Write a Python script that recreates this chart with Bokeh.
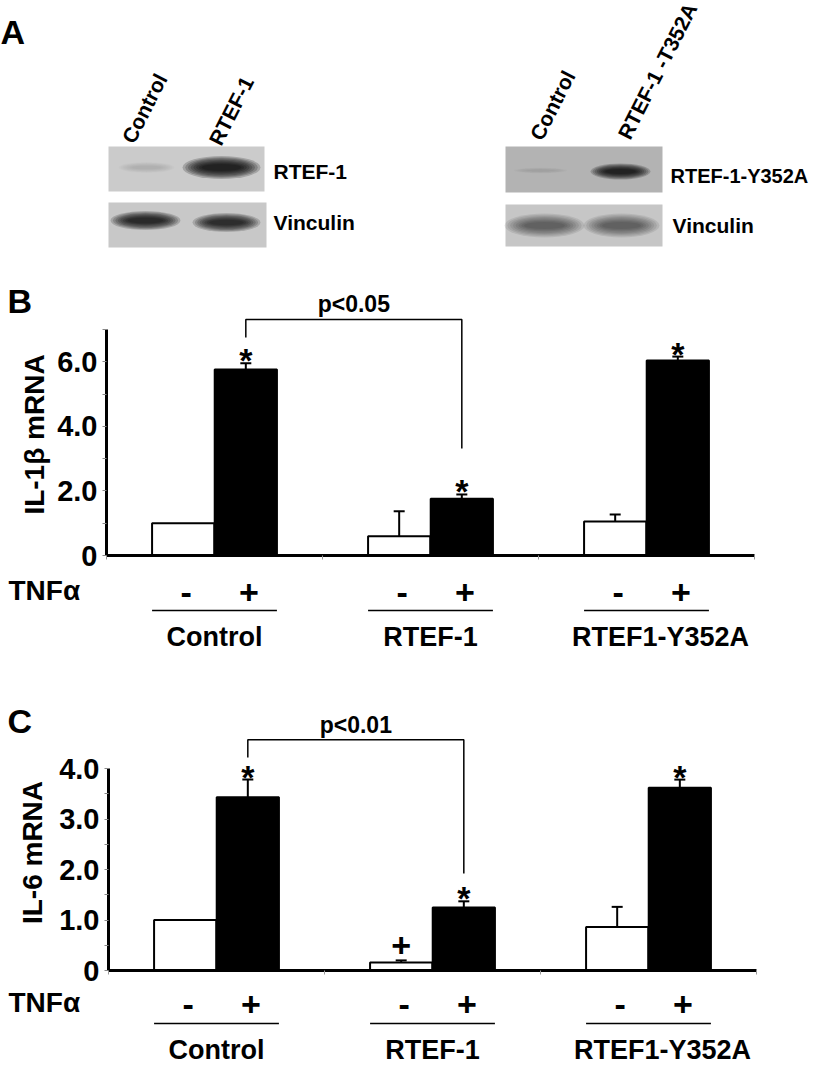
import math
from bokeh.plotting import figure
from bokeh.models import Range1d, LinearAxis, FixedTicker
from bokeh.core.properties import value
from bokeh.embed import file_html
from bokeh.resources import INLINE

FONT = "Liberation Sans"

# ---------------------------------------------------------------- data
groups = ["Control", "RTEF-1", "RTEF1-Y352A"]
tnf_signs = ["-", "+"]

il1b_minus = [1.0, 0.60, 1.05]
il1b_minus_err = [0.0, 0.77, 0.22]
il1b_plus = [5.76, 1.76, 6.04]
il1b_plus_err = [0.19, 0.13, 0.12]
il1b_minus_marks = ["", "", ""]
il1b_plus_marks = ["*", "*", "*"]

il6_minus = [1.0, 0.16, 0.86]
il6_minus_err = [0.0, 0.04, 0.40]
il6_plus = [3.43, 1.25, 3.62]
il6_plus_err = [0.35, 0.12, 0.16]
il6_minus_marks = ["", "+", ""]
il6_plus_marks = ["*", "*", "*"]

il1b_ticks = [0, 2, 4, 6]
il1b_tick_labels = ["0", "2.0", "4.0", "6.0"]
il1b_minor = [1, 3, 5, 7]
il6_ticks = [0, 1, 2, 3, 4]
il6_tick_labels = ["0", "1.0", "2.0", "3.0", "4.0"]
il6_minor = [0.5, 1.5, 2.5, 3.5]

# western blots: lanes and relative band darkness (0 none .. 1 black)
blot_lanes_left = ["Control", "RTEF-1"]
blot_lanes_right = ["Control", "RTEF-1 -T352A"]
rtef1_band = [0.13, 0.82]
vinc_left_band = [0.78, 0.76]
y352a_band = [0.10, 0.80]
vinc_right_band = [0.50, 0.50]

# ---------------------------------------------------------------- layout
W, H = 819, 1073
PPU_X = 216.0
BAR_W = 0.288
HALF = 0.145

# one canvas; default ranges are picture pixels (y negated)
p = figure(width=W, height=H, x_range=Range1d(0, W), y_range=Range1d(-H, 0),
           x_axis_type=None, y_axis_type=None, output_backend="svg",
           toolbar_location=None, min_border=0, outline_line_color=None)


def txt(x, y, t, size, style="bold", **kw):
    p.text(x=x, y=y, text=t, text_font=value(FONT), text_font_style=style,
           text_font_size=size, text_color="black", **kw)


# ---------------------------------------------------------------- panel A
txt([0], [-31.5], ["A"], "34px", text_baseline="middle")
p.rect(x=[186, 187, 583.5, 583.5], y=[-168.5, -224.5, -169, -225],
       width=[156, 158, 157, 157], height=[45, 45, 46, 42],
       fill_color=["#cbcbcb", "#c8c8c8", "#b3b3b3", "#c6c6c6"], line_color=None)


def bands(xs, ys, ws, hs, dark):
    n = 8
    for k in range(n):
        sw = 1.0 - 0.07 * k
        sh = 1.0 - 0.10 * k
        a = [1 - (1 - d) ** (1.0 / n) for d in dark]
        p.ellipse(x=xs, y=[-v for v in ys], width=[w * sw for w in ws],
                  height=[h * sh for h in hs], fill_color="black", fill_alpha=a,
                  line_color=None)


bands([146, 221], [167, 167], [56, 78], [11, 23], rtef1_band)
bands([145, 226], [220, 222], [70, 68], [19, 19], vinc_left_band)
bands([540, 620], [170, 171], [54, 60], [6, 16], y352a_band)
bands([544, 621], [225, 225], [80, 76], [24, 24], vinc_right_band)

txt([273, 273], [-170.5, -221.5], ["RTEF-1", "Vinculin"], "21px", text_baseline="middle")
txt([670], [-175.5], ["RTEF-1-Y352A"], "20px", text_baseline="middle")
txt([672], [-225], ["Vinculin"], "21px", text_baseline="middle")
ang = math.radians(63)
txt([127, 214], [-141, -143], blot_lanes_left, "21px", angle=ang, text_baseline="alphabetic")
txt([535, 623], [-138, -137], blot_lanes_right, "21px", angle=ang, text_baseline="alphabetic")


# ---------------------------------------------------------------- bar panels
def bar_panel(name, axis_x_ref, zero_ref, ppu, ymax, yticks, ylabels, yminor,
              minus, minus_err, plus, plus_err, minus_marks, plus_marks,
              ytitle, ytitle_ref, letter, letter_ref, bracket, plabel,
              sign_ref, line_ref, cat_ref, tnf_ref):
    xr, yr = name + "x", name + "y"
    p.extra_x_ranges[xr] = Range1d((0 - axis_x_ref) / PPU_X, (W - axis_x_ref) / PPU_X)
    p.extra_y_ranges[yr] = Range1d((zero_ref - H) / ppu, zero_ref / ppu)
    R = dict(x_range_name=xr, y_range_name=yr)

    def yd(ry):
        return (zero_ref - ry) / ppu

    yax = LinearAxis(fixed_location=0, bounds=(0, ymax), **R,
                     ticker=FixedTicker(ticks=yticks, minor_ticks=yminor),
                     major_label_overrides=dict(zip(yticks, ylabels)),
                     major_label_text_font=FONT, major_label_text_font_style="bold",
                     major_label_text_font_size="29px", major_label_text_color="black",
                     major_label_standoff=5,
                     axis_line_width=3, axis_line_color="black",
                     major_tick_out=4, major_tick_in=0, minor_tick_out=4, minor_tick_in=0,
                     major_tick_line_color="#888888", minor_tick_line_color="#888888")
    p.add_layout(yax, "left")
    xax = LinearAxis(fixed_location=0, bounds=(0, 3), **R,
                     ticker=FixedTicker(ticks=[0, 1, 2, 3], minor_ticks=[]),
                     major_label_overrides={0: "", 1: "", 2: "", 3: ""},
                     major_label_text_font_size="0px", major_label_standoff=0,
                     axis_line_width=3, axis_line_color="black",
                     major_tick_out=4, major_tick_in=0, minor_tick_out=0, minor_tick_in=0,
                     major_tick_line_color="#999999")
    p.add_layout(xax, "below")

    xm = [i + 0.5 - HALF for i in range(len(groups))]
    xp = [i + 0.5 + HALF for i in range(len(groups))]
    p.vbar(x=xm, top=minus, width=BAR_W, bottom=0, fill_color="white",
           line_color="black", line_width=2, **R)
    p.vbar(x=xp, top=plus, width=BAR_W, bottom=0, fill_color="black",
           line_color="black", line_width=2, **R)

    # error bars (upper only) with caps
    cap = 5.5 / PPU_X
    ex, lo, hi = [], [], []
    for xs, vs, es in ((xm, minus, minus_err), (xp, plus, plus_err)):
        for x, v, e in zip(xs, vs, es):
            if e > 0:
                ex.append(x)
                lo.append(v)
                hi.append(v + e)
    p.segment(x0=ex, x1=ex, y0=lo, y1=hi, line_width=2, line_color="black", **R)
    p.segment(x0=[x - cap for x in ex], x1=[x + cap for x in ex], y0=hi, y1=hi,
              line_width=2, line_color="black", **R)

    # significance marks
    txt(xp, [v + e for v, e in zip(plus, plus_err)], plus_marks, "34px",
        text_align="center", text_baseline="middle", y_offset=-3, **R)
    txt(xm, [v + e for v, e in zip(minus, minus_err)], minus_marks, "34px",
        text_align="center", text_baseline="middle", y_offset=-15, **R)

    # comparison bracket
    b_left, b_top, b_right = bracket
    p.line(x=[xp[0], xp[0], xp[1], xp[1]], y=[b_left, b_top, b_top, b_right],
           line_width=1.5, line_color="black", **R)
    txt([(xp[0] + xp[1]) / 2], [b_top], [plabel], "23px",
        text_align="center", text_baseline="middle", y_offset=-15, **R)

    # TNF signs, group lines and group names
    dx = 3 / PPU_X
    txt([x + dx for x in xm], [yd(sign_ref)] * 3, [tnf_signs[0]] * 3, "34px",
        text_align="center", text_baseline="middle", **R)
    txt([x + dx for x in xp], [yd(sign_ref)] * 3, [tnf_signs[1]] * 3, "34px",
        text_align="center", text_baseline="middle", **R)
    p.segment(x0=[x - BAR_W / 2 for x in xm], x1=[x + BAR_W / 2 for x in xp],
              y0=[yd(line_ref)] * 3, y1=[yd(line_ref)] * 3, line_width=1.5,
              line_color="black", **R)
    cat_x = [i + 0.5 for i in range(len(groups))]
    cat_x[2] += 14 / PPU_X
    txt(cat_x, [yd(cat_ref)] * 3, groups, "27px",
        text_align="center", text_baseline="middle", **R)

    # texts left of the axis (picture pixel coordinates)
    txt([8], [-tnf_ref], ["TNFα"], "28px", text_baseline="middle")
    txt([7], [-letter_ref], [letter], "34px", text_baseline="middle")
    txt([ytitle_ref[0]], [-ytitle_ref[1]], [ytitle], "28px", angle=math.pi / 2,
        text_align="center", text_baseline="middle")


bar_panel("b", axis_x_ref=106, zero_ref=555, ppu=32.29, ymax=7,
          yticks=il1b_ticks, ylabels=il1b_tick_labels, yminor=il1b_minor,
          minus=il1b_minus, minus_err=il1b_minus_err, plus=il1b_plus,
          plus_err=il1b_plus_err, minus_marks=il1b_minus_marks,
          plus_marks=il1b_plus_marks, ytitle="IL-1β mRNA", ytitle_ref=(34, 434),
          letter="B", letter_ref=300, bracket=(6.75, 7.31, 3.31), plabel="p<0.05",
          sign_ref=592, line_ref=610, cat_ref=636, tnf_ref=590)
bar_panel("c", axis_x_ref=108, zero_ref=970, ppu=50.5, ymax=4,
          yticks=il6_ticks, ylabels=il6_tick_labels, yminor=il6_minor,
          minus=il6_minus, minus_err=il6_minus_err, plus=il6_plus,
          plus_err=il6_plus_err, minus_marks=il6_minus_marks,
          plus_marks=il6_plus_marks, ytitle="IL-6 mRNA", ytitle_ref=(32, 852),
          letter="C", letter_ref=720, bracket=(4.22, 4.57, 1.92), plabel="p<0.01",
          sign_ref=1004, line_ref=1023, cat_ref=1049, tnf_ref=1002)

open("out.html", "w").write(file_html(p, INLINE))
